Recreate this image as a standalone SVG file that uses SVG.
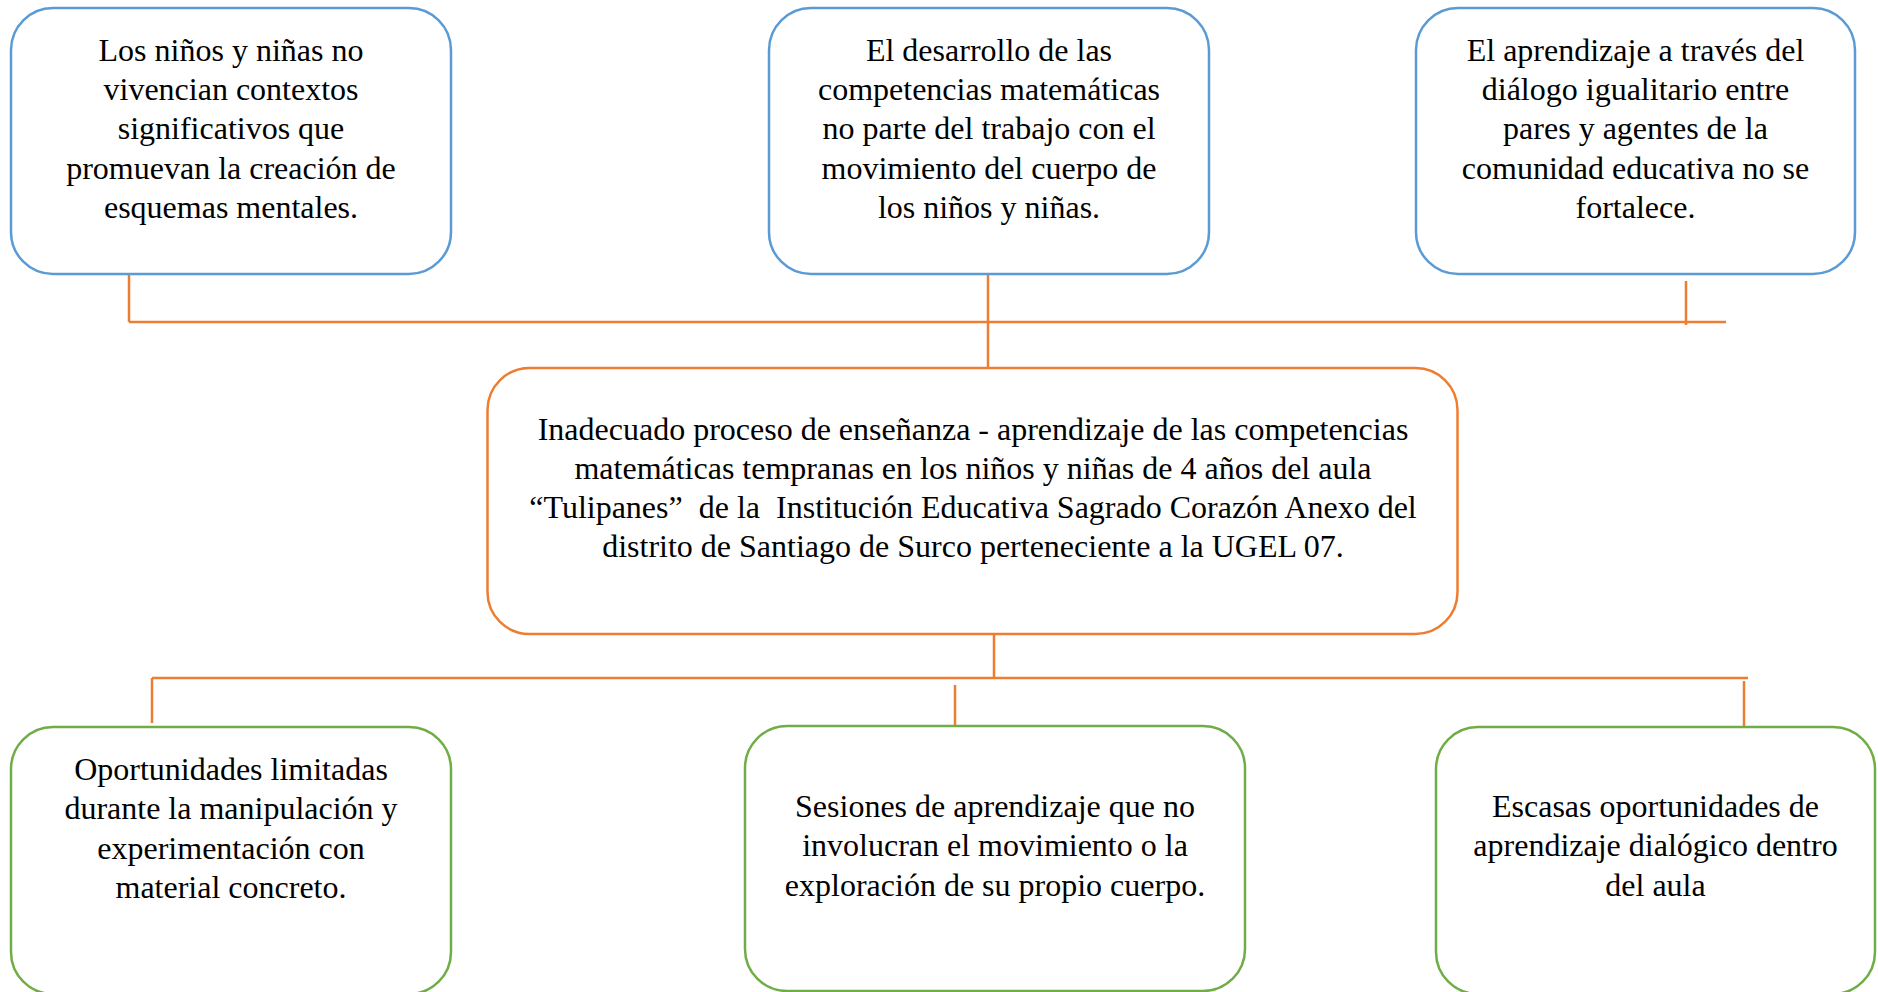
<svg xmlns="http://www.w3.org/2000/svg" width="1878" height="992" viewBox="0 0 1878 992">
<style>
.box{fill:#fff;stroke-width:2.5}
.blue{stroke:#5B9BD5}
.orange{stroke:#ED7D31}
.green{stroke:#70AD47}
.t{font-family:"Liberation Serif","Times New Roman",serif;font-size:32px;fill:#000;text-anchor:middle}
.c{stroke:#ED7D31;stroke-width:2.5;fill:none}
</style>
<rect width="1878" height="992" fill="#fff"/>
<g id="connectors">
<line class="c" x1="129" y1="275" x2="129" y2="322"/>
<line class="c" x1="129" y1="322" x2="1726" y2="322"/>
<line class="c" x1="988" y1="274" x2="988" y2="368"/>
<line class="c" x1="1686" y1="281" x2="1686" y2="325"/>
<line class="c" x1="994" y1="634" x2="994" y2="678"/>
<line class="c" x1="152" y1="678" x2="1748" y2="678"/>
<line class="c" x1="152" y1="678" x2="152" y2="723"/>
<line class="c" x1="955" y1="685" x2="955" y2="725"/>
<line class="c" x1="1744" y1="681" x2="1744" y2="727"/>
</g>
<g id="n1">
<rect class="box blue" x="11" y="8" width="440" height="266" rx="42"/>
<text class="t" x="231" y="61">Los niños y niñas no</text>
<text class="t" x="231" y="100">vivencian contextos</text>
<text class="t" x="231" y="139">significativos que</text>
<text class="t" x="231" y="179">promuevan la creación de</text>
<text class="t" x="231" y="218">esquemas mentales.</text>
</g>
<g id="n2">
<rect class="box blue" x="769" y="8" width="440" height="266" rx="42"/>
<text class="t" x="989" y="61">El desarrollo de las</text>
<text class="t" x="989" y="100">competencias matemáticas</text>
<text class="t" x="989" y="139">no parte del trabajo con el</text>
<text class="t" x="989" y="179">movimiento del cuerpo de</text>
<text class="t" x="989" y="218">los niños y niñas.</text>
</g>
<g id="n3">
<rect class="box blue" x="1416" y="8" width="439" height="266" rx="42"/>
<text class="t" x="1635.5" y="61">El aprendizaje a través del</text>
<text class="t" x="1635.5" y="100">diálogo igualitario entre</text>
<text class="t" x="1635.5" y="139">pares y agentes de la</text>
<text class="t" x="1635.5" y="179">comunidad educativa no se</text>
<text class="t" x="1635.5" y="218">fortalece.</text>
</g>
<g id="center">
<rect class="box orange" x="487.5" y="368" width="970" height="266" rx="42"/>
<text class="t" x="973" y="440">Inadecuado proceso de enseñanza - aprendizaje de las competencias</text>
<text class="t" x="973" y="479">matemáticas tempranas en los niños y niñas de 4 años del aula</text>
<text class="t" x="973" y="518" xml:space="preserve">“Tulipanes”  de la  Institución Educativa Sagrado Corazón Anexo del</text>
<text class="t" x="973" y="557">distrito de Santiago de Surco perteneciente a la UGEL 07.</text>
</g>
<g id="n4">
<rect class="box green" x="11" y="727" width="440" height="267" rx="42"/>
<text class="t" x="231" y="780">Oportunidades limitadas</text>
<text class="t" x="231" y="819">durante la manipulación y</text>
<text class="t" x="231" y="859">experimentación con</text>
<text class="t" x="231" y="898">material concreto.</text>
</g>
<g id="n5">
<rect class="box green" x="745" y="726" width="500" height="265" rx="42"/>
<text class="t" x="995" y="817">Sesiones de aprendizaje que no</text>
<text class="t" x="995" y="856">involucran el movimiento o la</text>
<text class="t" x="995" y="896">exploración de su propio cuerpo.</text>
</g>
<g id="n6">
<rect class="box green" x="1436" y="727" width="439" height="267" rx="42"/>
<text class="t" x="1655.5" y="817">Escasas oportunidades de</text>
<text class="t" x="1655.5" y="856">aprendizaje dialógico dentro</text>
<text class="t" x="1655.5" y="896">del aula</text>
</g>
</svg>
